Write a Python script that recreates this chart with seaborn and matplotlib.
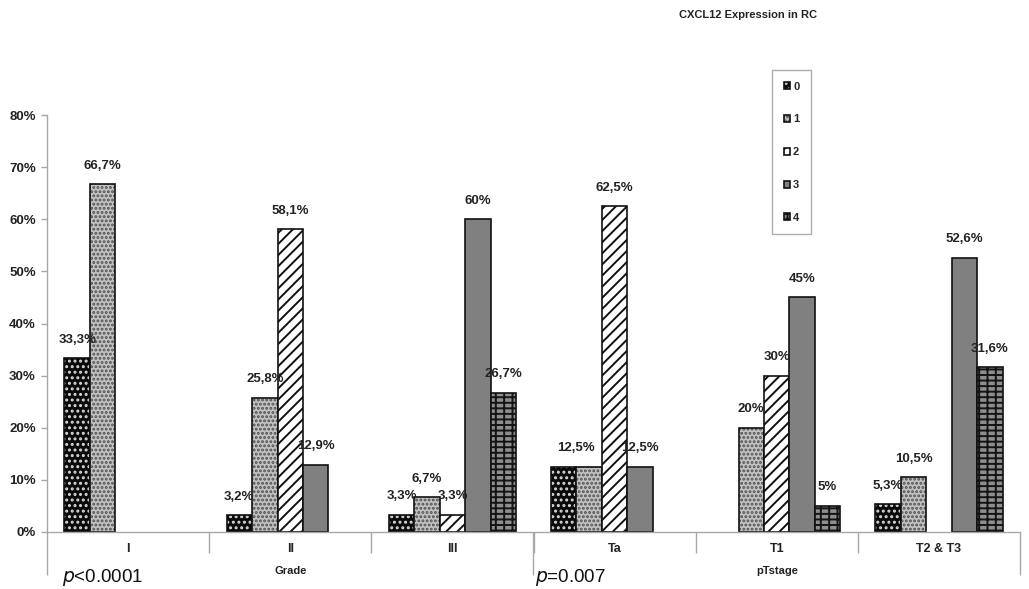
import numpy as np
import pandas as pd
import matplotlib
matplotlib.use("Agg")
import matplotlib.pyplot as plt
from matplotlib.patches import Patch
from matplotlib.ticker import FixedLocator, PercentFormatter
import seaborn as sns

# CXCL12 expression score distribution (%) per tumour grade and pT stage
groups = ["I", "II", "III", "Ta", "T1", "T2 & T3"]
scores = ["0", "1", "2", "3", "4"]
score_0 = [33.3, 3.2, 3.3, 12.5, 0.0, 5.3]
score_1 = [66.7, 25.8, 6.7, 12.5, 20.0, 10.5]
score_2 = [0.0, 58.1, 3.3, 62.5, 30.0, 0.0]
score_3 = [0.0, 12.9, 60.0, 12.5, 45.0, 52.6]
score_4 = [0.0, 0.0, 26.7, 0.0, 5.0, 31.6]
# value labels; the two equal Ta values (scores 0 and 1) share one label
value_labels = {
    "0": ["33,3%", "3,2%", "3,3%", "12,5%", "", "5,3%"],
    "1": ["66,7%", "25,8%", "6,7%", "", "20%", "10,5%"],
    "2": ["", "58,1%", "3,3%", "62,5%", "30%", ""],
    "3": ["", "12,9%", "60%", "12,5%", "45%", "52,6%"],
    "4": ["", "", "26,7%", "", "5%", "31,6%"],
}
group_titles = ["Grade", "pTstage"]
p_values = ["<0.0001", "=0.007"]
title = "CXCL12 Expression in RC"

series = dict(zip(scores, [score_0, score_1, score_2, score_3, score_4]))
rows = []
for s in scores:
    for g, v, lab in zip(groups, series[s], value_labels[s]):
        rows.append({"group": g, "score": s, "pct": v / 100.0, "label": lab})
df = pd.DataFrame(rows)
df_plot = df[df["pct"] > 0]

sns.set_theme(style="white")
plt.rcParams["font.family"] = ["Liberation Sans", "DejaVu Sans"]
plt.rcParams["hatch.linewidth"] = 1.4

# fill / hatch per score class
styles = {
    "0": dict(face="#0a0a0a", hatch="...", hcolor="#d8d8d8"),
    "1": dict(face="#c2c2c2", hatch="....", hcolor="#505050"),
    "2": dict(face="#ffffff", hatch="///", hcolor="#111111"),
    "3": dict(face="#808080", hatch=None, hcolor="#000000"),
    "4": dict(face="#8e8e8e", hatch="++-", hcolor="#141414"),
}
palette = {s: styles[s]["face"] for s in scores}

fig = plt.figure(figsize=(10.29, 5.89), dpi=100)
ax = fig.add_axes([47 / 1029, 1 - 532 / 589, 973 / 1029, 417 / 589])

sns.barplot(data=df_plot, x="group", y="pct", hue="score", order=groups,
            hue_order=scores, palette=palette, width=0.785, saturation=1,
            edgecolor="#111111", linewidth=1.2, errorbar=None, legend=False,
            ax=ax)

face_to_score = {matplotlib.colors.to_hex(styles[s]["face"]): s for s in scores}


def style_patch(p, s):
    st = styles[s]
    p.set_facecolor(st["face"])
    p.set_edgecolor("#111111")
    if st["hatch"]:
        p.set_hatch(st["hatch"])
        p._hatch_color = matplotlib.colors.to_rgba(st["hcolor"])


for cont in ax.containers:
    s = face_to_score[matplotlib.colors.to_hex(cont.patches[0].get_facecolor())]
    for p in cont.patches:
        style_patch(p, s)
    sub = df_plot[df_plot["score"] == s].set_index("group").reindex(groups).dropna()
    anns = ax.bar_label(cont, labels=list(sub["label"]), padding=9,
                        fontsize=9.5, fontweight="bold", color="#222222")
    if s == "0":
        # shared Ta label sits between the two equal bars
        for g, a in zip(sub.index, anns):
            if g == "Ta":
                a.xyann = (9, a.xyann[1])

ax.set_xlim(-0.5, len(groups) - 0.5)
ax.set_ylim(0, 0.8)
ax.yaxis.set_major_locator(FixedLocator(np.arange(0, 0.81, 0.1)))
ax.yaxis.set_major_formatter(PercentFormatter(1.0, decimals=0))
ax.set_xlabel("")
ax.set_ylabel("")

for side in ("top", "right"):
    ax.spines[side].set_visible(False)
for side in ("left", "bottom"):
    ax.spines[side].set_color("#a8a8a8")
    ax.spines[side].set_linewidth(1.0)

ax.tick_params(axis="y", left=True, length=4, width=1, color="#a8a8a8",
               labelsize=9.5, labelcolor="#222222", pad=4)
for t in ax.get_yticklabels():
    t.set_fontweight("bold")
ax.tick_params(axis="x", which="major", length=0, pad=8, labelsize=9,
               labelcolor="#222222")
for t in ax.get_xticklabels():
    t.set_fontweight("bold")
ax.set_xticks(np.arange(0.5, len(groups) - 1, 1.0), minor=True)
ax.tick_params(axis="x", which="minor", length=15, width=1, color="#a8a8a8",
               bottom=True)

# outer separators between the Grade and pTstage blocks
sec = ax.secondary_xaxis("bottom")
sec.set_xticks([-0.5, 2.5, 5.5], labels=["", "", ""])
sec.tick_params(axis="x", length=31, width=1, color="#a8a8a8")
sec.spines["bottom"].set_visible(False)

xt = ax.get_xaxis_transform()
ax.text(1, -0.094, group_titles[0], transform=xt, ha="center", va="center",
        fontsize=8, fontweight="bold", color="#222222")
ax.text(4, -0.094, group_titles[1], transform=xt, ha="center", va="center",
        fontsize=8, fontweight="bold", color="#222222")
ax.text(-0.41, -0.108, r"$\it{p}$" + p_values[0], transform=xt, ha="left",
        va="center", fontsize=13.5, color="#111111")
ax.text(2.51, -0.108, r"$\it{p}$" + p_values[1], transform=xt, ha="left",
        va="center", fontsize=13.5, color="#111111")

fig.text(748 / 1029, 1 - 15 / 589, title, ha="center", va="center",
         fontsize=8, fontweight="bold", color="#222222")

handles = []
for s in scores:
    st = styles[s]
    h = Patch(facecolor=st["face"], edgecolor="#111111", linewidth=1.2,
              hatch=st["hatch"], label=s)
    handles.append(h)
leg = fig.legend(handles=handles, loc="upper left",
                 bbox_to_anchor=(772 / 1029, 1 - 70 / 589), frameon=True,
                 fancybox=False, edgecolor="#9a9a9a", fontsize=8,
                 handlelength=0.6, handleheight=0.6, handletextpad=0.25,
                 labelspacing=2.05, borderpad=1.05, borderaxespad=0)
leg.get_frame().set_linewidth(1.0)
for t in leg.get_texts():
    t.set_fontweight("bold")
for h, s in zip(leg.legend_handles, scores):
    if styles[s]["hatch"]:
        h._hatch_color = matplotlib.colors.to_rgba(styles[s]["hcolor"])

fig.savefig("out.png", dpi=100, facecolor="white")
